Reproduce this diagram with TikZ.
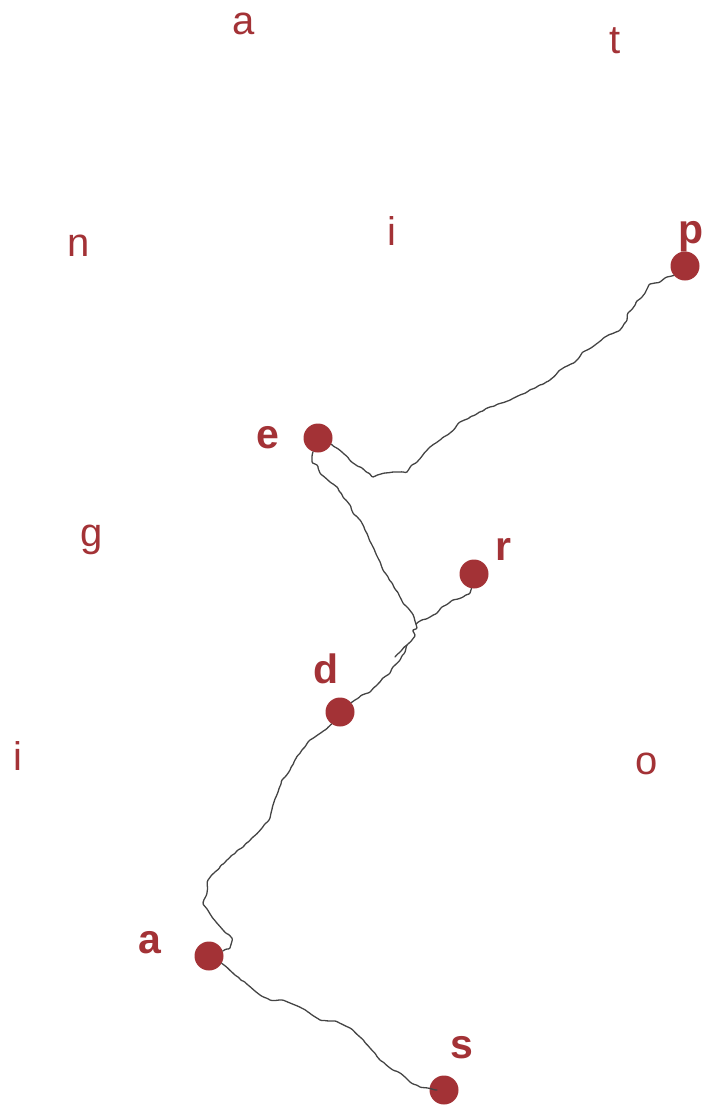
\documentclass[tikz,border=0pt]{standalone}
\usepackage{fontspec}
\setmainfont{Liberation Sans}
\usetikzlibrary{decorations.pathmorphing}
\definecolor{dotred}{RGB}{163,50,54}
\definecolor{trail}{RGB}{68,68,68}
\begin{document}
\begin{tikzpicture}[x=1pt,y=-1pt,
  letter/.style={text=dotred,font=\fontsize{40}{40}\selectfont,anchor=base,inner sep=0pt},
  tag/.style={text=dotred,font=\fontsize{41}{41}\selectfont\bfseries,anchor=base,inner sep=0pt},
  site/.style={circle,fill=dotred,minimum size=29pt,inner sep=0pt},
  trailline/.style={draw=trail,line width=1.3pt,line join=round,line cap=round,rounded corners=1pt,
    decorate,decoration={random steps,segment length=3.5pt,amplitude=0.6pt}}]
\pgfmathsetseed{7}
\useasboundingbox (0,0) rectangle (710,1106);

% scattered background letters
\node[letter] (bgA) at (243.5,34) {a};
\node[letter] (bgT) at (615,53) {t};
\node[letter] (bgN) at (79,256) {n};
\node[letter] (bgI) at (392,245) {i};
\node[letter] (bgG) at (92,546) {g};
\node[letter] (bgJ) at (18,770) {i};
\node[letter] (bgO) at (647,774) {o};

% sites
\node[site] (p) at (685,266) {};
\node[site] (e) at (318,438) {};
\node[site] (r) at (474,574) {};
\node[site] (d) at (340,712) {};
\node[site] (a) at (209,956) {};
\node[site] (s) at (444,1090) {};

% site labels
\node[tag] (lp) at (691,243) {p};
\node[tag] (le) at (268,448) {e};
\node[tag] (lr) at (503,560) {r};
\node[tag] (ld) at (326,683) {d};
\node[tag] (la) at (150,953) {a};
\node[tag] (ls) at (462,1058) {s};

% junction points of the trails
\coordinate (j) at (416,624);
\coordinate (k) at (407,645);
\coordinate (spur) at (395,657);
\coordinate (sEnd) at (437,1090);

% trails
\path[trailline] (p.220) -- (667,277) -- (660,282) -- (650,284) -- (647,289) -- (642,297)
  -- (637,301) -- (633,308) -- (628,313) -- (627,320) -- (620,330) -- (605,337)
  -- (595,345) -- (583,352) -- (575,362) -- (560,370) -- (550,380) -- (535,388)
  -- (520,395) -- (505,402) -- (490,407) -- (475,415) -- (460,422) -- (450,433)
  -- (440,440) -- (430,447) -- (417,462) -- (412,465) -- (407,472) -- (397,472)
  -- (385,473) -- (373,477) -- (362,468) -- (353,463) -- (343,453) -- (e.-25);

\path[trailline] (e.250) -- (312,462) -- (317,465) -- (320,473) -- (330,482)
  -- (337,487) -- (343,497) -- (350,505) -- (353,513) -- (360,520) -- (365,530)
  -- (372,545) -- (378,558) -- (383,570) -- (392,583) -- (400,597) -- (403,603)
  -- (412,613) -- (j);

\path[trailline] (r.-100) -- (470,593) -- (463,597) -- (453,600) -- (442,607)
  -- (437,613) -- (430,617) -- (420,621) -- (j);

\path[trailline] (j) -- (417,628) -- (413,630) -- (415,635) -- (412,640) -- (k)
  -- (405,652) -- (400,660) -- (393,667) -- (390,673) -- (383,678) -- (377,685)
  -- (370,692) -- (362,695) -- (355,700) -- (d.40);

\path[trailline] (k) -- (spur);

\path[trailline] (d.235) -- (322,732) -- (310,740) -- (302,750) -- (295,760)
  -- (290,770) -- (282,780) -- (278,792) -- (273,805) -- (270,818) -- (262,828)
  -- (252,838) -- (243,847) -- (238,850) -- (227,860) -- (215,872) -- (208,880)
  -- (207,893) -- (203,903) -- (212,917) -- (223,930) -- (232,938) -- (230,948)
  -- (a.20);

\path[trailline] (a.-30) -- (235,975) -- (248,985) -- (260,995) -- (270,1000)
  -- (282,1000) -- (295,1005) -- (308,1012) -- (320,1020) -- (335,1021)
  -- (350,1028) -- (360,1037) -- (370,1048) -- (380,1060) -- (390,1068)
  -- (400,1073) -- (410,1082) -- (420,1087) -- (sEnd);
\end{tikzpicture}
\end{document}
